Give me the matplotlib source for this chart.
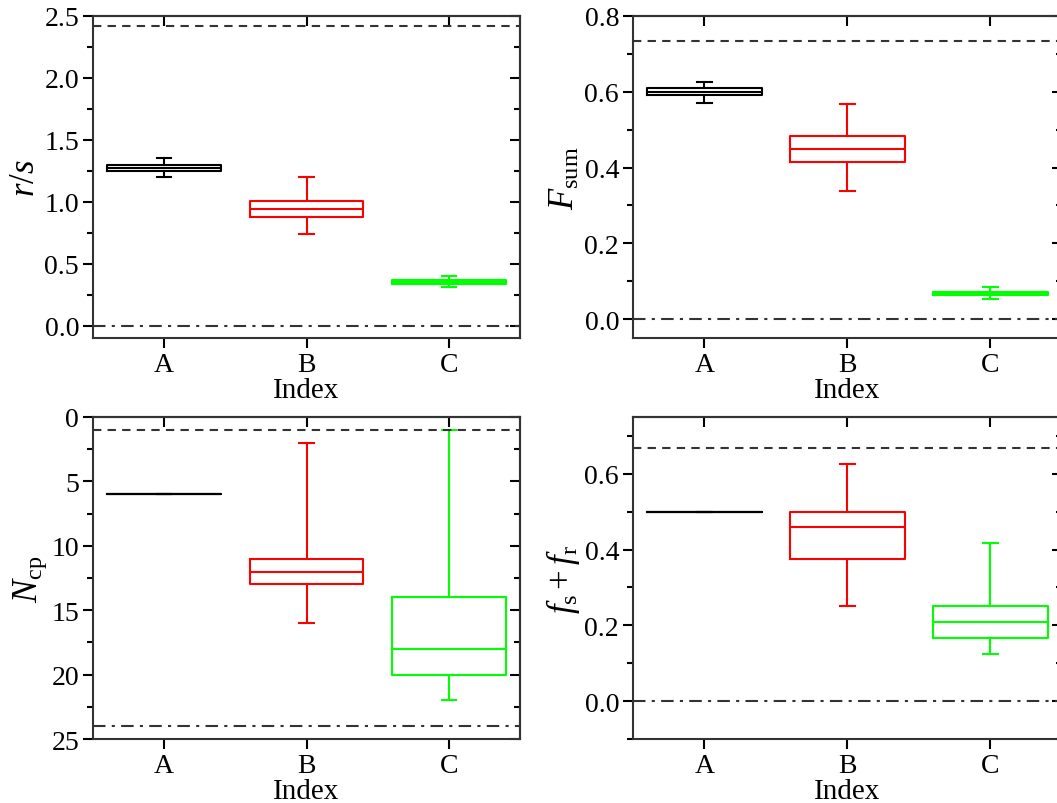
import matplotlib
matplotlib.use("Agg")
import matplotlib.pyplot as plt
from matplotlib.ticker import MultipleLocator

plt.rcParams['font.family'] = ['Liberation Serif', 'DejaVu Serif']
plt.rcParams['mathtext.fontset'] = 'custom'
plt.rcParams['mathtext.rm'] = 'Liberation Serif'
plt.rcParams['mathtext.it'] = 'Liberation Serif:italic'

groups = ['A', 'B', 'C']
colors = ['black', '#ff0000', '#00ff00']

# box stats per panel: (whislo, q1, med, q3, whishi)
rs_stats = [(1.20, 1.25, 1.274, 1.30, 1.35),
            (0.74, 0.877, 0.944, 1.01, 1.204),
            (0.309, 0.339, 0.35, 0.365, 0.398)]
fsum_stats = [(0.571, 0.591, 0.599, 0.609, 0.627),
              (0.337, 0.415, 0.449, 0.484, 0.567),
              (0.054, 0.063, 0.068, 0.072, 0.085)]
ncp_stats = [(6, 6, 6, 6, 6),
             (2, 11, 12, 13, 16),
             (1, 14, 18, 20, 22)]
ff_stats = [(0.5, 0.5, 0.5, 0.5, 0.5),
            (0.25, 0.375, 0.459, 0.50, 0.625),
            (0.125, 0.167, 0.209, 0.25, 0.417)]

# reference lines (dashed upper, dash-dot lower)
rs_ref = (2.42, 0.0)
fsum_ref = (0.733, 0.0)
ncp_ref = (1, 24)
ff_ref = (0.667, 0.0)

panels = [
    (rs_stats, rs_ref, r'$\mathit{r/s}$', (-0.1, 2.5), 0.5, 0.25),
    (fsum_stats, fsum_ref, r'$F_{\mathrm{sum}}$', (-0.05, 0.8), 0.2, 0.1),
    (ncp_stats, ncp_ref, r'$N_{\mathrm{cp}}$', (25, 0), 5, 2.5),
    (ff_stats, ff_ref, r'$f_{\mathrm{s}}+f_{\mathrm{r}}$', (-0.1, 0.75), 0.2, 0.1),
]

positions = [
    [93/1057, 1 - 339/804, 427/1057, 322/804],
    [633/1057, 1 - 339/804, 429/1057, 322/804],
    [93/1057, 1 - 740/804, 427/1057, 322/804],
    [633/1057, 1 - 740/804, 429/1057, 322/804],
]

fig = plt.figure(figsize=(10.57, 8.04), dpi=100)

for (stats, ref, ylab, ylim, major, minor), pos in zip(panels, positions):
    ax = fig.add_axes(pos)
    for i, s in enumerate(stats):
        st = dict(whislo=s[0], q1=s[1], med=s[2], q3=s[3], whishi=s[4], fliers=[])
        c = colors[i]
        ax.bxp([st], positions=[i + 1], widths=0.8, capwidths=0.1, showfliers=False,
               boxprops=dict(color=c, linewidth=1.5),
               medianprops=dict(color=c, linewidth=1.5),
               whiskerprops=dict(color=c, linewidth=1.5),
               capprops=dict(color=c, linewidth=1.5))
    ax.axhline(ref[0], color='#333333', linestyle='--', linewidth=1.5, dashes=(4, 3))
    ax.axhline(ref[1], color='#333333', linestyle='-.', linewidth=1.5, dashes=(6, 3, 1.5, 3))
    ax.set_xlim(0.5, 3.5)
    ax.set_ylim(*ylim)
    ax.set_xticks([1, 2, 3])
    ax.set_xticklabels(groups)
    ax.yaxis.set_major_locator(MultipleLocator(major))
    ax.yaxis.set_minor_locator(MultipleLocator(minor))
    if major < 1:
        ax.yaxis.set_major_formatter(plt.FormatStrFormatter('%.1f'))
    ax.tick_params(axis='both', which='major', direction='out', length=7, width=1.5,
                   labelsize=20, pad=3)
    ax.tick_params(axis='y', which='minor', direction='out', length=4, width=1.5)
    for sp in ax.spines.values():
        sp.set_linewidth(1.5)
        sp.set_color('#333333')
    ax.set_xlabel('Index', fontsize=21, labelpad=0)
    ax.set_ylabel(ylab, fontsize=25, labelpad=2)

    sy = ax.secondary_yaxis('right')
    sy.yaxis.set_major_locator(MultipleLocator(major))
    sy.yaxis.set_minor_locator(MultipleLocator(minor))
    sy.tick_params(which='major', direction='in', length=7, width=1.5, labelright=False)
    sy.tick_params(which='minor', direction='in', length=4, width=1.5)
    sy.spines['right'].set_linewidth(1.5)
    sy.spines['right'].set_color('#333333')
    sx = ax.secondary_xaxis('top')
    sx.set_xticks([1, 2, 3])
    sx.tick_params(direction='in', length=7, width=1.5, labeltop=False)
    sx.spines['top'].set_linewidth(1.5)
    sx.spines['top'].set_color('#333333')

fig.savefig('out.png', dpi=100)
